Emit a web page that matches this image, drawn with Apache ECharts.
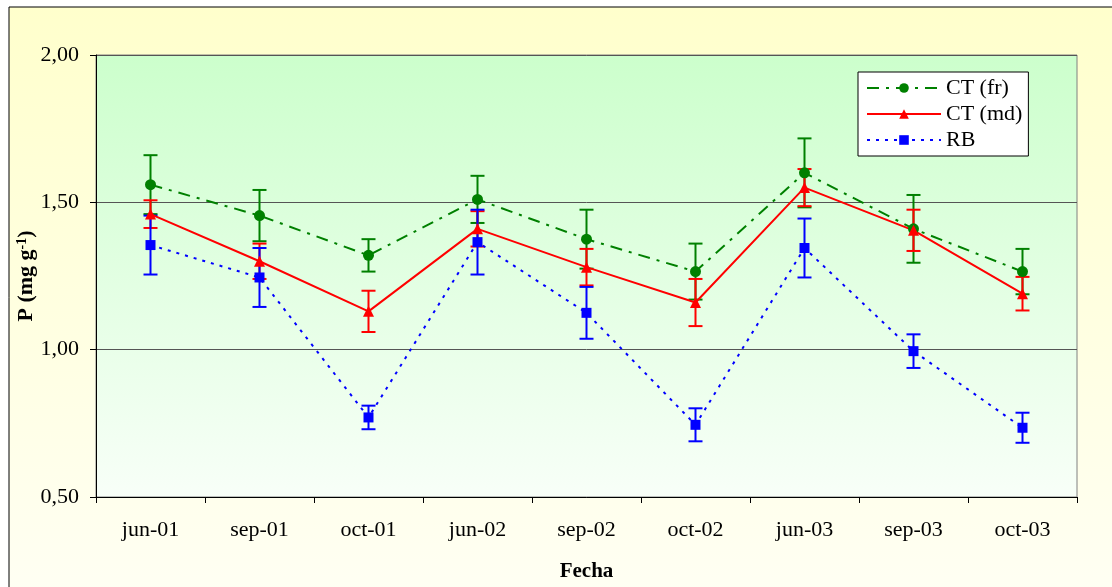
<!DOCTYPE html>
<html>
<head>
<meta charset="utf-8">
<script src="https://cdn.jsdelivr.net/npm/echarts@6/dist/echarts.min.js"></script>
<style>
  html, body { margin: 0; padding: 0; background: #ffffff; }
  #chart { width: 1112px; height: 587px; }
</style>
</head>
<body>
<div id="chart"></div>
<script>
// Sampling dates
const categories = ['jun-01', 'sep-01', 'oct-01', 'jun-02', 'sep-02', 'oct-02', 'jun-03', 'sep-03', 'oct-03'];

// Mean P (mg g-1) and error half-widths per treatment
const ctFr    = [1.56, 1.455, 1.32, 1.51, 1.375, 1.265, 1.60, 1.41, 1.265];
const ctFrErr = [0.10, 0.087, 0.055, 0.08, 0.10, 0.095, 0.117, 0.115, 0.077];
const ctMd    = [1.46, 1.30, 1.13, 1.41, 1.28, 1.16, 1.55, 1.405, 1.19];
const ctMdErr = [0.047, 0.06, 0.07, 0.06, 0.062, 0.08, 0.063, 0.07, 0.057];
const rb      = [1.355, 1.245, 0.77, 1.365, 1.125, 0.745, 1.345, 0.995, 0.735];
const rbErr   = [0.10, 0.10, 0.04, 0.11, 0.088, 0.056, 0.10, 0.057, 0.051];

const yTicks = { min: 0.5, max: 2.0, interval: 0.5 };

const serif = 'Liberation Serif';

function errData(vals, errs) {
  return vals.map((v, i) => [i, v - errs[i], v + errs[i]]);
}

function errorBarSeries(name, vals, errs, color) {
  return {
    type: 'custom',
    name: name + ' err',
    data: errData(vals, errs),
    z: 3,
    silent: true,
    renderItem: function (params, api) {
      const hi = api.coord([api.value(0), api.value(2)]);
      const lo = api.coord([api.value(0), api.value(1)]);
      const hw = 7;
      const st = { stroke: color, lineWidth: 2 };
      return {
        type: 'group',
        children: [
          { type: 'line', shape: { x1: hi[0], y1: hi[1], x2: lo[0], y2: lo[1] }, style: st },
          { type: 'line', shape: { x1: hi[0] - hw, y1: hi[1], x2: hi[0] + hw, y2: hi[1] }, style: st },
          { type: 'line', shape: { x1: lo[0] - hw, y1: lo[1], x2: lo[0] + hw, y2: lo[1] }, style: st }
        ]
      };
    }
  };
}

const chart = echarts.init(document.getElementById('chart'), null, { renderer: 'canvas' });

chart.setOption({
  animation: false,
  backgroundColor: '#ffffff',
  graphic: [{
    type: 'rect',
    z: -100,
    shape: { x: 9, y: 7, width: 1120, height: 600 },
    style: {
      fill: new echarts.graphic.LinearGradient(0, 0, 0, 1, [
        { offset: 0, color: '#ffffcc' },
        { offset: 1, color: '#fffff4' }
      ]),
      stroke: '#000000',
      lineWidth: 1
    }
  }],
  grid: {
    left: 96, right: 35, top: 55, bottom: 90,
    show: true,
    borderColor: '#808080',
    borderWidth: 1,
    backgroundColor: new echarts.graphic.LinearGradient(0, 0, 0, 1, [
      { offset: 0, color: '#ccffcc' },
      { offset: 1, color: '#f8fff8' }
    ])
  },
  legend: {
    data: ['CT (fr)', 'CT (md)', 'RB'],
    orient: 'vertical',
    left: 858,
    top: 72,
    itemWidth: 74,
    itemHeight: 12,
    itemGap: 4,
    padding: [5, 6, 5, 8],
    backgroundColor: '#ffffff',
    borderColor: '#000000',
    borderWidth: 1,
    textStyle: { fontFamily: serif, fontSize: 22, color: '#000000' }
  },
  xAxis: {
    type: 'category',
    data: categories,
    boundaryGap: true,
    name: 'Fecha',
    nameLocation: 'middle',
    nameGap: 64,
    nameMoveOverlap: false,
    nameTextStyle: { fontFamily: serif, fontSize: 21, fontWeight: 'bold', color: '#000000' },
    axisLine: { lineStyle: { color: '#000000', width: 1 } },
    axisTick: { show: true, length: 6, inside: false, lineStyle: { color: '#000000' } },
    axisLabel: { fontFamily: serif, fontSize: 22, color: '#000000', margin: 22 },
    splitLine: { show: false }
  },
  yAxis: {
    type: 'value',
    min: yTicks.min,
    max: yTicks.max,
    interval: yTicks.interval,
    name: 'P (mg g{sup|-1})',
    nameLocation: 'middle',
    nameGap: 58,
    nameMoveOverlap: false,
    nameTextStyle: {
      fontFamily: serif, fontSize: 22, fontWeight: 'bold', color: '#000000',
      rich: {
        sup: { fontFamily: serif, fontSize: 14, fontWeight: 'bold', color: '#000000', verticalAlign: 'top', padding: [0, 0, 9, 0] }
      }
    },
    axisLine: { show: true, lineStyle: { color: '#000000', width: 1 } },
    axisTick: { show: true, length: 6, lineStyle: { color: '#000000' } },
    axisLabel: {
      fontFamily: serif, fontSize: 22, color: '#000000', margin: 17,
      formatter: v => v.toFixed(2).replace('.', ',')
    },
    splitLine: { show: true, lineStyle: { color: '#555555', width: 1 } }
  },
  series: [
    errorBarSeries('CT (fr)', ctFr, ctFrErr, '#008000'),
    errorBarSeries('CT (md)', ctMd, ctMdErr, '#ff0000'),
    errorBarSeries('RB', rb, rbErr, '#0000ff'),
    {
      name: 'CT (fr)', type: 'line', data: ctFr, z: 4,
      symbol: 'circle', symbolSize: 11,
      itemStyle: { color: '#008000' },
      lineStyle: { color: '#008000', width: 2, type: [12, 7, 3, 7] }
    },
    {
      name: 'CT (md)', type: 'line', data: ctMd, z: 4,
      symbol: 'triangle', symbolSize: 11,
      itemStyle: { color: '#ff0000' },
      lineStyle: { color: '#ff0000', width: 2, type: 'solid' }
    },
    {
      name: 'RB', type: 'line', data: rb, z: 4,
      symbol: 'rect', symbolSize: 10,
      itemStyle: { color: '#0000ff' },
      lineStyle: { color: '#0000ff', width: 2, type: [3, 6] }
    }
  ]
});
</script>
</body>
</html>
